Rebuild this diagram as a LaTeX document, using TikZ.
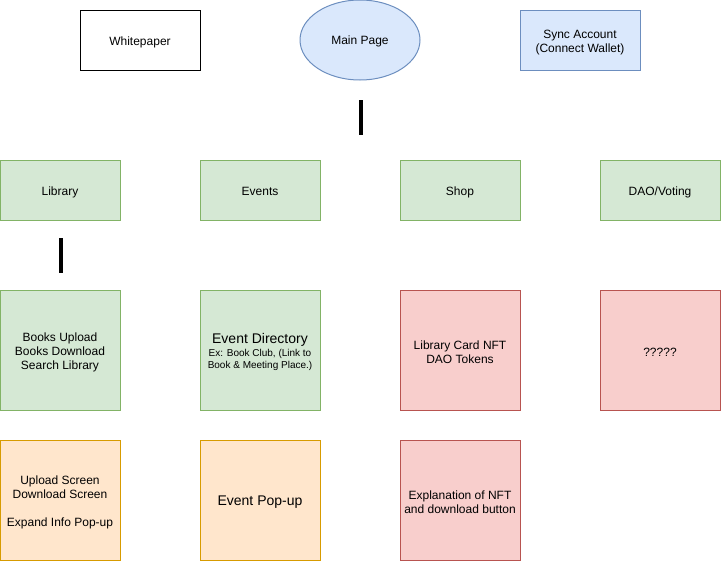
\documentclass[tikz,border=0pt]{standalone}
\usepackage{fontspec}
\setmainfont{Liberation Sans}
\usetikzlibrary{positioning,shapes.geometric}
\definecolor{GreenFill}{HTML}{D5E8D4}
\definecolor{GreenLine}{HTML}{82B366}
\definecolor{BlueFill}{HTML}{DAE8FC}
\definecolor{BlueLine}{HTML}{6C8EBF}
\definecolor{OrangeFill}{HTML}{FFE6CC}
\definecolor{OrangeLine}{HTML}{D79B00}
\definecolor{RedFill}{HTML}{F8CECC}
\definecolor{RedLine}{HTML}{B85450}
\newcommand{\firstline}{\rule{0pt}{13pt}}
\tikzset{
  page box/.style={draw,line width=1pt,align=center,minimum width=120pt,
    minimum height=60pt,inner sep=2pt,outer sep=0pt,font=\fontsize{12}{14}\selectfont},
  menu box/.style={page box,draw=GreenLine,fill=GreenFill,text height=13pt,text depth=2.5pt},
  big box/.style={page box,minimum height=120pt},
  green big/.style={big box,draw=GreenLine,fill=GreenFill},
  orange big/.style={big box,draw=OrangeLine,fill=OrangeFill},
  red big/.style={big box,draw=RedLine,fill=RedFill},
  bar line/.style={line width=4pt,draw=black}
}

\begin{document}
\begin{tikzpicture}[x=1pt,y=-1pt,node distance=80pt]
  \useasboundingbox (0,0) rectangle (722,562);
  % top row
  \node[page box,text height=13pt,text depth=2.5pt] (whitepaper) at (140,40) {Whitepaper};
  \node[ellipse,draw=BlueLine,fill=BlueFill,line width=1pt,minimum width=120pt,minimum height=80pt,
    inner sep=0pt,outer sep=0pt,text height=11pt,text depth=2.5pt,font=\fontsize{12}{14}\selectfont,
    right=100pt of whitepaper] (main) {Main Page};
  \node[page box,draw=BlueLine,fill=BlueFill,right=100pt of main] (sync) {\firstline Sync Account\\(Connect Wallet)};
  \coordinate (mainbartop) at (360.5,100);
  \coordinate (mainbarbot) at (360.5,135);
  \draw[bar line] (mainbartop) -- (mainbarbot);
  % menu row
  \node[menu box] (library) at (60,190) {Library};
  \node[menu box,right=of library] (events) {Events};
  \node[menu box,right=of events] (shop) {Shop};
  \node[menu box,right=of shop] (dao) {DAO/Voting};
  \coordinate (libbartop) at (60.5,238);
  \coordinate (libbarbot) at (60.5,273);
  \draw[bar line] (libbartop) -- (libbarbot);
  % pages
  \node[green big,below=70pt of library] (books) {\firstline Books Upload\\Books Download\\Search Library};
  \node[green big,right=of books] (directory) {{\fontsize{14}{16}\selectfont\rule{0pt}{15pt}Event Directory}\\[-1pt]
    {\fontsize{10}{12}\selectfont Ex: Book Club, (Link to}\\[-2pt]{\fontsize{10}{12}\selectfont Book \& Meeting Place.)}};
  \node[red big,right=of directory] (card) {\firstline Library Card NFT\\DAO Tokens};
  \node[red big,right=of card] (unknown) {\firstline ?????};
  % pop-ups
  \node[orange big,below=30pt of books] (screens) {\firstline Upload Screen\\Download Screen\\[14pt]Expand Info Pop-up};
  \node[orange big,below=30pt of directory,font=\fontsize{14}{16}\selectfont] (popup) {\rule{0pt}{14pt}Event Pop-up};
  \node[red big,below=30pt of card] (explain) {\firstline Explanation of NFT\\and download button};
\end{tikzpicture}
\end{document}
